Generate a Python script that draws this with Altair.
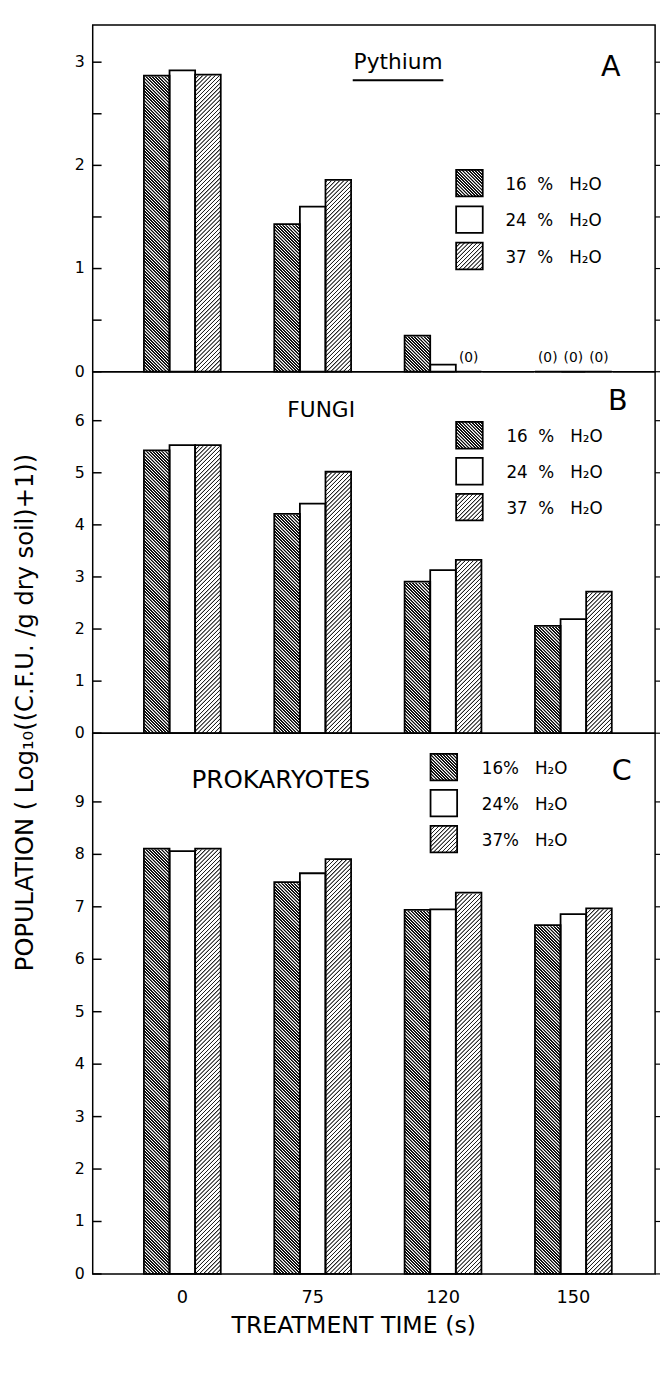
import math
import altair as alt
import pandas as pd

# ---------------- data ----------------
times = ["0", "75", "120", "150"]
series = ["16%", "24%", "37%"]

pythium_16 = [2.87, 1.43, 0.35, 0.0]
pythium_24 = [2.92, 1.60, 0.07, 0.0]
pythium_37 = [2.88, 1.86, 0.0, 0.0]

fungi_16 = [5.43, 4.21, 2.91, 2.06]
fungi_24 = [5.53, 4.41, 3.13, 2.19]
fungi_37 = [5.53, 5.02, 3.33, 2.72]

prok_16 = [8.11, 7.47, 6.94, 6.65]
prok_24 = [8.06, 7.64, 6.95, 6.86]
prok_37 = [8.11, 7.91, 7.27, 6.97]

NB = "\u00a0"
legend_ab = [f"{p}{NB*2}%{NB*3}H\u2082O" for p in ("16", "24", "37")]
legend_c = [f"{p}%{NB*3}H\u2082O" for p in ("16", "24", "37")]

a_labels = [0, 1, 2, 3]
a_ticks = [0, 0.5, 1, 1.5, 2, 2.5, 3]
b_labels = [0, 1, 2, 3, 4, 5, 6]
b_ticks = [0, 1, 2, 3, 4, 5, 6]
c_labels = [0, 1, 2, 3, 4, 5, 6, 7, 8, 9]
c_ticks = [0, 1, 2, 3, 4, 5, 6, 7, 8, 9]

x_title = "TREATMENT TIME (s)"
y_title = "POPULATION ( Log\u2081\u2080((C.F.U. /g dry soil)+1))"

FONT = "DejaVu Sans"

# ---------------- layout constants ----------------
W = 571
PI, PO, ALIGN = 0.4106, 0.3627, 0.5417
STEP = W / (4 - PI + 2 * PO)
BAR_W = STEP * (1 - PI) / 3
SW = 27  # legend swatch size


def hatch_fill(w, h, period, f1, f2, f3, direction, dark="#111111", light="#ffffff"):
    L = w + h
    n = int(math.ceil(L / period)) + 1
    stops = []
    for k in range(n):
        base = k * period
        for frac, col in ((0, dark), (f1, dark), (f2, light), (f3, light)):
            off = (base + frac * period) / L
            if off > 1:
                off = 1.0
            stops.append(alt.GradientStop(offset=round(off, 5), color=col))
        if base + period >= L:
            break
    s = L / (w * w + h * h)
    if direction == "back":
        c = dict(x1=0, y1=1, x2=round(s * w, 6), y2=round(1 - s * h, 6))
    else:
        c = dict(x1=0, y1=0, x2=round(s * w, 6), y2=round(s * h, 6))
    return alt.LinearGradient(gradient="linear", stops=stops, **c)


def fill_16(w, h):
    return hatch_fill(w, h, 3.2, 0.47, 0.6, 0.87, "back")


def fill_37(w, h):
    return hatch_fill(w, h, 4.2, 0.15, 0.33, 0.86, "fwd", dark="#222222")


def text_layer(label, x, y, size, **kw):
    return (
        alt.Chart(pd.DataFrame({"label": [label]}))
        .mark_text(fontSize=size, font=FONT, color="black", align="center",
                   baseline="middle", **kw)
        .encode(text="label:N", x=alt.value(x), y=alt.value(y))
    )


def panel(v16, v24, v37, dmax, height, cap, labels, ticks, show_x,
          title, title_xy, title_size, letter, letter_xy,
          leg_labels, leg_x, leg_y, leg_step, leg_tx, extras=()):
    df = pd.DataFrame({
        "time": times * 3,
        "series": [s for s in series for _ in times],
        "value": list(v16) + list(v24) + list(v37),
    })
    ppu = height / dmax
    hpx = cap * ppu
    yscale = alt.Scale(domain=[0, dmax], nice=False, zero=True)
    xscale = alt.Scale(domain=times, paddingInner=PI, paddingOuter=PO, align=ALIGN)
    oscale = alt.Scale(domain=series, paddingInner=0, paddingOuter=0)

    X = alt.X("time:N", sort=times, scale=xscale, axis=None)
    XO = alt.XOffset("series:N", sort=series, scale=oscale)
    base = alt.Chart(df)
    layers = []
    # hatched full bars
    for s, fn in (("16%", fill_16), ("37%", fill_37)):
        layers.append(
            base.transform_filter(alt.datum.series == s)
            .transform_calculate(cap=str(cap))
            .mark_bar(fill=fn(BAR_W, hpx), strokeWidth=0)
            .encode(x=X, xOffset=XO,
                    y=alt.Y("cap:Q", scale=yscale, axis=None, stack=None))
        )
    # white covers above the values
    layers.append(
        base.transform_filter(alt.datum.series != "24%")
        .transform_calculate(cap=str(cap))
        .mark_bar(fill="white", stroke="white", strokeWidth=2)
        .encode(x=X, xOffset=XO,
                y=alt.Y("value:Q", scale=yscale, axis=None, stack=None),
                y2="cap:Q")
    )
    # outlines
    layers.append(
        base.mark_bar(fillOpacity=0, stroke="black", strokeWidth=1.8)
        .encode(x=X, xOffset=XO,
                y=alt.Y("value:Q", scale=yscale, axis=None, stack=None))
    )
    # zero labels
    layers.append(
        base.transform_filter(alt.datum.value == 0)
        .mark_text(dy=-14, fontSize=14, font=FONT, color="black")
        .encode(x=X, xOffset=XO,
                y=alt.Y("value:Q", scale=yscale, axis=None, stack=None),
                text=alt.value("(0)"))
    )
    # y ticks (inside left, outside right) and labels
    tdf = pd.DataFrame({"t": ticks})
    ldf_y = pd.DataFrame({"t": labels})
    layers.append(
        alt.Chart(tdf).mark_rule(color="black", strokeWidth=1.5)
        .encode(y=alt.Y("t:Q", scale=yscale, axis=None),
                x=alt.value(0), x2=alt.value(9))
    )
    layers.append(
        alt.Chart(tdf).mark_rule(color="black", strokeWidth=1.2)
        .encode(y=alt.Y("t:Q", scale=yscale, axis=None),
                x=alt.value(W), x2=alt.value(W + 5))
    )
    layers.append(
        alt.Chart(ldf_y).mark_text(fontSize=16, font=FONT, color="black",
                                   align="right", baseline="middle")
        .encode(y=alt.Y("t:Q", scale=yscale, axis=None),
                x=alt.value(-8), text="t:Q")
    )
    if show_x:
        xdf = pd.DataFrame({"time": times})
        layers.append(
            alt.Chart(xdf).mark_text(fontSize=18, font=FONT, color="black",
                                     align="center", baseline="middle")
            .encode(x=X, y=alt.value(height + 24), text="time:N")
        )
        layers.append(text_layer(x_title, 265, height + 53, 24))
    # titles
    layers.append(text_layer(title, title_xy[0], title_xy[1], title_size))
    layers.append(text_layer(letter, letter_xy[0], letter_xy[1], 29))
    # legend
    ldf = pd.DataFrame({"series": series, "label": leg_labels})
    fills = {"16%": fill_16(SW, SW), "24%": "white", "37%": fill_37(SW, SW)}
    for i, s in enumerate(series):
        y0 = leg_y + i * leg_step
        sub = alt.Chart(ldf).transform_filter(alt.datum.series == s)
        layers.append(
            sub.mark_rect(fill=fills[s], stroke="black", strokeWidth=1.8)
            .encode(x=alt.value(leg_x), x2=alt.value(leg_x + SW),
                    y=alt.value(y0), y2=alt.value(y0 + SW))
        )
        layers.append(
            sub.mark_text(fontSize=17, font=FONT, color="black", align="left", baseline="middle")
            .encode(text="label:N", x=alt.value(leg_tx), y=alt.value(y0 + SW / 2 + 2))
        )
    layers.extend(extras)
    return alt.layer(*layers).properties(width=W, height=height)


underline = (
    alt.Chart(pd.DataFrame({"k": [0]}))
    .mark_rule(color="black", strokeWidth=2)
    .encode(x=alt.value(264), x2=alt.value(356), y=alt.value(56))
)
ytitle = text_layer(y_title, -68, 346, 24.5, angle=270)

pa = panel(pythium_16, pythium_24, pythium_37, 3.36, 352, 3, a_labels, a_ticks, False,
           "Pythium", (310, 38), 22, "A", (526, 43),
           legend_ab, 369, 147, 37, 419, extras=[underline])
pb = panel(fungi_16, fungi_24, fungi_37, 6.94, 367, 6, b_labels, b_ticks, False,
           "FUNGI", (232, 39), 22, "B", (533, 30),
           legend_ab, 369, 51, 36.5, 420, extras=[ytitle])
pc = panel(prok_16, prok_24, prok_37, 10.31, 549, 9, c_labels, c_ticks, True,
           "PROKARYOTES", (191, 48), 25, "C", (537, 39),
           legend_c, 343, 21, 36.5, 395)

chart = (
    alt.vconcat(pa, pb, pc, spacing=0, bounds="flush")
    .resolve_scale(y="independent")
    .configure_view(stroke="black", strokeWidth=1.5)
    .properties(padding={"left": 4, "top": 6, "right": 0, "bottom": 6}, background="white")
)

chart.save("out.html", embed_options={"renderer": "svg", "actions": False})
